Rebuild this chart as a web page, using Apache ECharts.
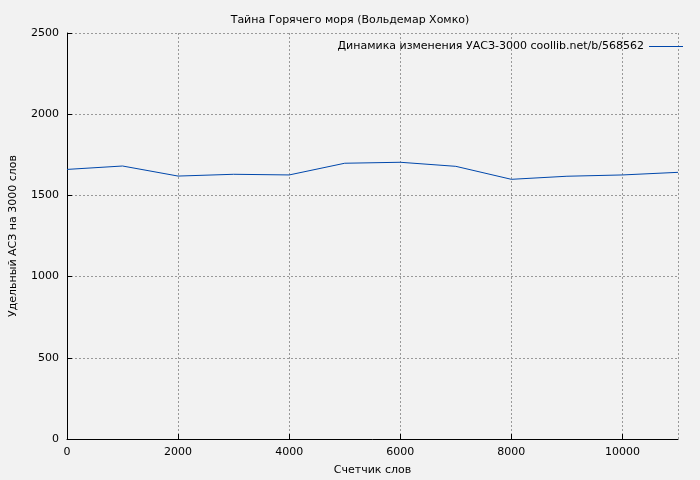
<!DOCTYPE html><html><head><meta charset="utf-8"><script src="https://cdn.jsdelivr.net/npm/echarts@6/dist/echarts.min.js"></script></head><body style="margin:0;background:#f2f2f2"><div id="c" style="width:700px;height:480px"></div><script>
const xs=[0,1000,2000,3000,4000,5000,6000,7000,8000,9000,10000,11000];
const ys=[1660,1681,1619,1630,1626,1698,1704,1679,1599,1618,1626,1642];
const name='Динамика изменения УАСЗ-3000 coollib.net/b/568562';
const f='DejaVu Sans';
const ch=echarts.init(document.getElementById('c'));
ch.setOption({backgroundColor:'#f2f2f2',animation:false,
title:{text:'Тайна Горячего моря (Вольдемар Хомко)',left:'center',top:10,textStyle:{fontFamily:f,fontSize:11,fontWeight:'normal',color:'#000'}},
legend:{right:12,top:36,itemWidth:34,itemHeight:1,icon:'rect',align:'right',textStyle:{fontFamily:f,fontSize:11,color:'#000'},data:[name]},
grid:{left:67,right:22,top:33,bottom:41,outerBoundsMode:'none',containLabel:false},
xAxis:{type:'value',min:0,max:11000,interval:2000,name:'Счетчик слов',nameLocation:'middle',nameGap:26,nameTextStyle:{fontFamily:f,fontSize:11,color:'#000'},
axisLine:{lineStyle:{color:'#000'}},axisTick:{inside:true,lineStyle:{color:'#000'}},axisLabel:{fontFamily:f,fontSize:11,color:'#000',showMaxLabel:false,formatter:v=>String(v)},splitLine:{show:true,lineStyle:{type:[2,2],color:'#999'}}},
yAxis:{type:'value',min:0,max:2500,interval:500,name:'Удельный АСЗ на 3000 слов',nameLocation:'middle',nameGap:48,nameTextStyle:{fontFamily:f,fontSize:11,color:'#000'},
axisLine:{show:true,lineStyle:{color:'#000'}},axisTick:{show:true,inside:true,lineStyle:{color:'#000'}},axisLabel:{fontFamily:f,fontSize:11,color:'#000',formatter:v=>String(v)},splitLine:{show:true,lineStyle:{type:[2,2],color:'#999'}}},
series:[{name:name,type:'line',data:xs.map((x,i)=>[x,ys[i]]),showSymbol:false,lineStyle:{color:'#0047ab',width:1},itemStyle:{color:'#0047ab'}}]});
</script></body></html>
